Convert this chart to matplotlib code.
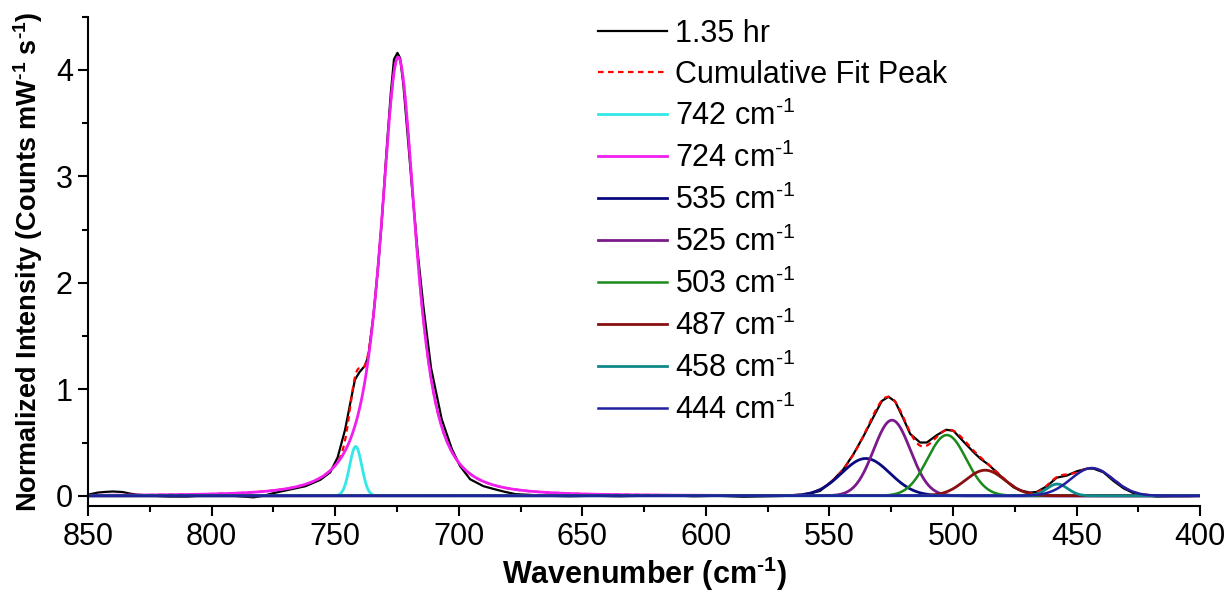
import numpy as np
import matplotlib.pyplot as plt

plt.rcParams['font.family'] = ['Liberation Sans', 'DejaVu Sans']
plt.rcParams['mathtext.fontset'] = 'custom'
plt.rcParams['mathtext.rm'] = 'Liberation Sans'
plt.rcParams['mathtext.bf'] = 'Liberation Sans:bold'
plt.rcParams['mathtext.default'] = 'regular'

wn = [850, 846, 843, 840, 836, 833, 830, 824, 817, 810, 802, 795, 789, 783, 779,
      774, 768, 762, 756, 752, 749, 746, 743.3, 742, 740.2, 738, 736.6, 734.5,
      732.5, 731.2, 729.1, 727.5, 726.2, 724.8, 723.7, 722.4, 720.8, 718.8, 716.5,
      714.3, 711.2, 706.9, 702.8, 699.5, 695.4, 690, 685.3, 681.2, 677, 672.5,
      665, 655, 645, 635, 625, 615, 605, 595, 585, 575, 565, 560,
      553.8, 548.4, 544.3, 540.3, 536.2, 532.2, 528.8, 526.1, 523.4, 520.0, 517.3,
      513.3, 510.6, 506.5, 502.8, 499.8, 495.8, 491.7, 489.0, 485.5, 482.3, 479.6,
      475.5, 472.8, 468.8, 466.1, 462.0, 458.0, 453.9, 449.9, 445.8, 443.2, 439.1,
      435.1, 431.0, 427.0, 422.9, 417.5, 410.8, 405, 400]
counts = [0.01, 0.03, 0.036, 0.04, 0.035, 0.02, 0.01, 0.0, -0.008, -0.008, 0.005, 0.01,
          -0.005, -0.015, 0.0, 0.03, 0.06, 0.09, 0.15, 0.22, 0.36, 0.62, 0.94, 1.09,
          1.16, 1.22, 1.31, 1.70, 2.19, 2.56, 3.28, 3.78, 4.10, 4.16, 4.11, 3.86, 3.42,
          2.86, 2.26, 1.78, 1.20, 0.72, 0.44, 0.28, 0.155, 0.09, 0.06, 0.036, 0.015, 0.01,
          0.0, -0.005, 0.0, -0.005, 0.0, 0.005, -0.005, 0.0, -0.01, -0.005, 0.0, 0.01,
          0.045, 0.15, 0.25, 0.39, 0.56, 0.74, 0.89, 0.93, 0.885, 0.72, 0.58,
          0.50, 0.50, 0.57, 0.62, 0.61, 0.51, 0.41, 0.35, 0.29, 0.22, 0.16,
          0.08, 0.05, 0.03, 0.036, 0.09, 0.17, 0.19, 0.23, 0.255, 0.255, 0.22,
          0.14, 0.07, 0.025, 0.008, -0.008, -0.005, -0.005, 0.0]

# fitted components: centre, height, FWHM, shape exponent (0 = gaussian)
peak_names = ['742', '724', '535', '525', '503', '487', '458', '444']
centers = [741.7, 724.5, 535.3, 524.7, 502.5, 487.0, 457.8, 443.8]
heights = [0.463, 4.12, 0.35, 0.71, 0.57, 0.24, 0.11, 0.26]
fwhm = [5.8, 17.0, 23.0, 17.5, 18.5, 19.0, 10.0, 20.0]
shape = [0, 1.4, 0, 0, 0, 0, 0, 0]
colors = ['#33E8E8', '#F01EF0', '#0A0A80', '#7B1A8A', '#1A8A1A', '#8A1010', '#0E8A8A', '#2020A0']
widths = [2.0, 2.0, 2.0, 2.0, 1.8, 2.0, 2.0, 1.8]


def peak(x, c, h, w, m):
    if m == 0:
        s = w / 2.3548
        return h * np.exp(-(x - c) ** 2 / (2 * s * s))
    hw = w / 2
    return h * (1 + ((x - c) / hw) ** 2 * (2 ** (1 / m) - 1)) ** (-m)


x = np.linspace(850, 400, 2000)
comps = [peak(x, centers[i], heights[i], fwhm[i], shape[i]) for i in range(len(centers))]
total = np.sum(comps, axis=0)

sup = '$^{\u20101}$'

fig = plt.figure(figsize=(12.28, 5.92), dpi=100)
ax = fig.add_axes([0.0717, 0.1446, 0.9056, 0.8272])

ax.plot(wn, counts, color='black', lw=1.6, label='1.35 hr')
ax.plot(x, total, color='red', lw=1.6, ls=(0, (2.5, 2)), label='Cumulative Fit Peak')
for i in range(len(centers)):
    ax.plot(x, comps[i], color=colors[i], lw=widths[i],
            label=peak_names[i] + ' cm' + sup)

ax.set_xlim(850, 400)
ax.set_ylim(-0.1, 4.5)
ax.set_xticks(np.arange(850, 399, -50))
ax.set_xticks(np.arange(825, 400, -50), minor=True)
ax.set_yticks([0, 1, 2, 3, 4])
ax.set_yticks([0.5, 1.5, 2.5, 3.5, 4.5], minor=True)
ax.tick_params(which='major', direction='out', length=7, width=1.5, labelsize=22, pad=4)
ax.tick_params(which='minor', direction='out', length=4, width=1.5)
for s in ['top', 'right']:
    ax.spines[s].set_visible(False)
for s in ['left', 'bottom']:
    ax.spines[s].set_linewidth(1.5)

ax.set_xlabel('Wavenumber (cm' + sup + ')', fontsize=22, fontweight='bold', labelpad=2)
ax.set_ylabel('Normalized Intensity (Counts mW' + sup + ' s' + sup + ')', fontsize=19.5,
              fontweight='bold', labelpad=8)

ax.legend(loc='upper left', bbox_to_anchor=(0.4586, 0.995), frameon=False, fontsize=22,
          handlelength=2.25, handletextpad=0.27, labelspacing=0.35, borderpad=0,
          borderaxespad=0)

fig.savefig('out.png', dpi=100)
